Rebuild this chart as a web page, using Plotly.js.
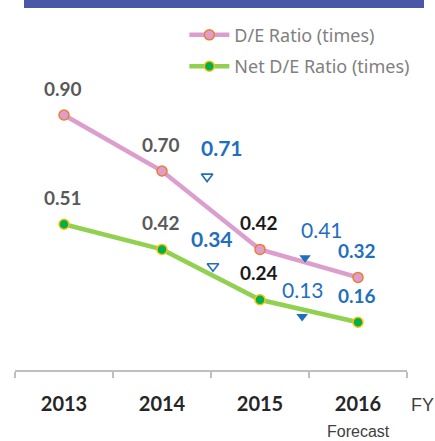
<!DOCTYPE html>
<html>
<head>
<meta charset="utf-8">
<script src="https://cdn.plot.ly/plotly-3.0.1.min.js"></script>
<style>html,body{margin:0;padding:0;background:#fff;}#chart{width:435px;height:441px;}</style>
</head>
<body>
<div id="chart"></div>
<script>
// ---- data ----
const years = ['2013', '2014', '2015', '2016'];
const deRatio = [0.90, 0.70, 0.42, 0.32];
const netDeRatio = [0.51, 0.42, 0.24, 0.16];
const seriesNames = ['D/E Ratio (times)', 'Net D/E Ratio (times)'];
// plan / reference markers (open = earlier plan, filled = later plan)
const planX = [1.46, 1.52, 2.46, 2.43];
const planY = [0.68, 0.36, 0.39, 0.18];
const planLabels = ['0.71', '0.34', '0.41', '0.13'];
const planFilled = [false, false, true, true];

const BLUE = '#1f6fbf';
const FONT = 'Lato, "Liberation Sans", sans-serif';

const traces = [
  {
    x: years, y: deRatio, name: seriesNames[0], type: 'scatter', mode: 'lines+markers',
    line: {color: '#dc9fcd', width: 4.5},
    marker: {size: 10, color: '#dc9fcd', line: {color: '#ed7d31', width: 1.5}},
    cliponaxis: false, legendgroup: 'a'
  },
  {
    x: years, y: netDeRatio, name: seriesNames[1], type: 'scatter', mode: 'lines+markers',
    line: {color: '#92d050', width: 4.5},
    marker: {size: 10, color: '#00b050', line: {color: '#ffc000', width: 1.5}},
    cliponaxis: false, legendgroup: 'b'
  },
  {
    x: planX.filter((v, i) => !planFilled[i]), y: planY.filter((v, i) => !planFilled[i]),
    xaxis: 'x2', yaxis: 'y', type: 'scatter', mode: 'markers', showlegend: false,
    marker: {symbol: 'triangle-down-open', size: 10, color: BLUE, line: {width: 1.6, color: BLUE}},
    cliponaxis: false, hoverinfo: 'skip'
  },
  {
    x: planX.filter((v, i) => planFilled[i]), y: planY.filter((v, i) => planFilled[i]),
    xaxis: 'x2', yaxis: 'y', type: 'scatter', mode: 'markers', showlegend: false,
    marker: {symbol: 'triangle-down', size: 10, color: BLUE},
    cliponaxis: false, hoverinfo: 'skip'
  }
];

const annotations = [];
function labelStyle(i) {
  if (i < 2) return {color: '#595959', weight: 'bold'};
  if (i === 2) return {color: '#1a1a1a', weight: 'bold'};
  return {color: BLUE, weight: 'bold'};
}
[deRatio, netDeRatio].forEach(series => {
  series.forEach((v, i) => {
    const st = labelStyle(i);
    annotations.push({
      x: i, y: v, xref: 'x', yref: 'y', text: v.toFixed(2), showarrow: false,
      yshift: 27, xshift: -1,
      font: {family: FONT, size: 19, color: st.color, weight: st.weight}
    });
  });
});
const planShift = [[15, 29], [-1, 28], [17, 28], [1, 27]];
planLabels.forEach((t, i) => {
  annotations.push({
    x: planX[i], y: planY[i], xref: 'x2', yref: 'y', text: t, showarrow: false,
    xshift: planShift[i][0], yshift: planShift[i][1],
    font: {family: FONT, size: 21, color: BLUE, weight: planFilled[i] ? 'normal' : 'bold'}
  });
});
annotations.push({
  xref: 'paper', yref: 'paper', x: (422 - 15) / 392, y: (370 - 405) / 280, text: 'FY', showarrow: false,
  xanchor: 'center', yanchor: 'middle',
  font: {family: '"Liberation Sans", Arial, sans-serif', size: 18, color: '#404040'}
});
annotations.push({
  xref: 'x', yref: 'paper', x: 3, y: (370 - 431) / 280, text: 'Forecast', showarrow: false,
  xanchor: 'center', yanchor: 'middle',
  font: {family: '"Liberation Sans", Arial, sans-serif', size: 16, color: '#404040'}
});

const layout = {
  width: 435, height: 441,
  margin: {l: 15, r: 28, t: 90, b: 71},
  paper_bgcolor: '#fff', plot_bgcolor: '#fff',
  showlegend: true,
  legend: {
    x: 0.432, xanchor: 'left', y: 1.262, yanchor: 'top',
    font: {family: '"Noto Sans", sans-serif', size: 18, color: '#808080'},
    tracegroupgap: 5, bgcolor: 'rgba(0,0,0,0)', itemwidth: 40
  },
  xaxis: {
    type: 'category', range: [-0.5, 3.5], tickson: 'boundaries', ticks: 'outside', ticklen: 6,
    tickwidth: 2, tickcolor: '#bfbfbf', showline: true, linecolor: '#bfbfbf', linewidth: 2,
    showgrid: false, zeroline: false, ticklabelstandoff: 15,
    tickfont: {family: FONT, size: 20, color: '#262626', weight: 'bold'}
  },
  xaxis2: {overlaying: 'x', type: 'linear', range: [-0.5, 3.5], visible: false},
  yaxis: {range: [-0.0107, 0.9893], visible: false, showgrid: false, zeroline: false},
  annotations: annotations,
  shapes: [{
    type: 'rect', xref: 'paper', yref: 'paper', x0: (24 - 15) / 392, x1: (424 - 15) / 392,
    y0: 362 / 280, y1: 1.4, fillcolor: '#4a56a6', line: {width: 0}, layer: 'above'
  }]
};

Plotly.newPlot('chart', traces, layout, {displayModeBar: false, staticPlot: true});
</script>
</body>
</html>
